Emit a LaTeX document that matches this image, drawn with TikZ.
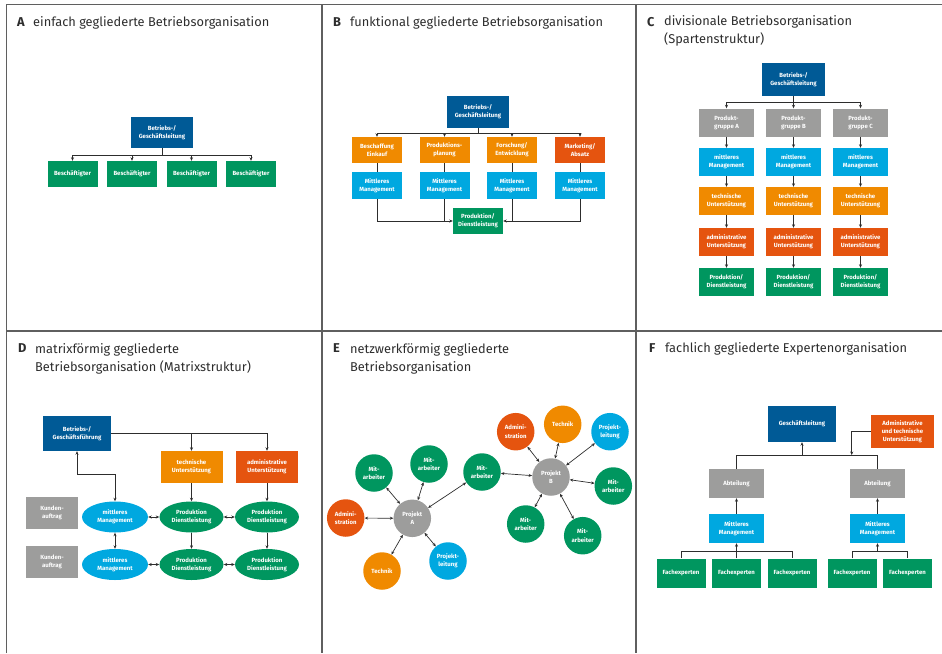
\documentclass[tikz,border=0pt]{standalone}
\usepackage{fontspec}
\setmainfont{Fira Sans}
\usetikzlibrary{arrows.meta,shapes.geometric}
\definecolor{dblue}{RGB}{0,90,150}
\definecolor{ogreen}{RGB}{0,150,95}
\definecolor{oorange}{RGB}{240,138,0}
\definecolor{ored}{RGB}{229,84,15}
\definecolor{ocyan}{RGB}{0,168,224}
\definecolor{ogray}{RGB}{157,157,156}
\definecolor{framec}{RGB}{95,95,95}
\definecolor{ink}{RGB}{45,45,45}
\begin{document}
\begin{tikzpicture}[x=1pt,y=-1pt,
  bx/.style={inner sep=0pt, text=white, font=\fontsize{6}{8.2}\selectfont\bfseries, align=center},
  rbox/.style={bx, rectangle, minimum width=#1},
  rbox/.default=50pt,
  ell/.style={bx, ellipse, minimum height=31pt},
  circ/.style={bx, circle, minimum size=37.5pt},
  ln/.style={draw=ink, line width=0.7pt},
  arr/.style={ln, -{Stealth[length=3.5pt,width=3pt]}},
  darr/.style={ln, {Stealth[length=3.5pt,width=3pt]}-{Stealth[length=3.5pt,width=3pt]}},
  ttl/.style={inner sep=0pt, text=ink, font=\fontsize{12.8}{18}\selectfont, align=left, anchor=base west},
  lett/.style={ttl, font=\fontsize{12.8}{18}\selectfont\bfseries}
]
\useasboundingbox (0,0) rectangle (942,653);
% frame
\draw[framec, line width=1.4pt] (6.5,653) -- (6.5,4.5) -- (942,4.5);
\draw[framec, line width=1.2pt] (6.5,331) -- (942,331);
\draw[framec, line width=1.2pt] (322,4.5) -- (322,653);
\draw[framec, line width=1.2pt] (636,4.5) -- (636,653);

% ---------- A ----------
\node[lett] (tA) at (17,26) {A};
\node[ttl] (tAt) at (33,26) {einfach gegliederte Betriebsorganisation};
\node[rbox=62pt, minimum height=31pt, fill=dblue] (a0) at (162,132.5) {Betriebs-/\\Geschäftsleitung};
\foreach \i/\x in {1/72.5,2/132,3/191.5,4/251}{
  \node[rbox, minimum height=26pt, fill=ogreen] (a\i) at (\x,174) {Beschäftigter};
  \draw[arr] (a0.south) -- ++(0,7) -| (a\i.north);
}

% ---------- B ----------
\node[lett] (tB) at (333,26) {B};
\node[ttl] (tBt) at (350,26) {funktional gegliederte Betriebsorganisation};
\node[rbox=62pt, minimum height=32pt, fill=dblue] (b0) at (478,112) {Betriebs-/\\Geschäftsleitung};
\node[rbox, minimum height=26pt, fill=oorange] (b11) at (377,150) {Beschaffung\\Einkauf};
\node[rbox, minimum height=26pt, fill=oorange] (b12) at (444.5,150) {Produktions-\\planung};
\node[rbox, minimum height=26pt, fill=oorange] (b13) at (512,150) {Forschung/\\Entwicklung};
\node[rbox, minimum height=26pt, fill=ored] (b14) at (580,150) {Marketing/\\Absatz};
\foreach \i/\x in {1/377,2/444.5,3/512,4/580}{
  \node[rbox, minimum height=27pt, fill=ocyan] (b2\i) at (\x,185.5) {Mittleres\\Management};
  \draw[arr] (b0.south) -- ++(0,5) -| (b1\i.north);
  \draw[ln] (b1\i.south) -- (b2\i.north);
}
\node[rbox, minimum height=26pt, fill=ogreen] (bg) at (478,221) {Produktion/\\Dienstleistung};
\draw[arr] (b21.south) |- (bg.west);
\draw[ln] (b22.south) -- (b22.south |- bg.west);
\draw[arr] (b24.south) |- (bg.east);
\draw[ln] (b23.south) -- (b23.south |- bg.east);

% ---------- C ----------
\node[lett] (tC) at (647,26) {C};
\node[ttl] (tCt) at (664,43) {divisionale Betriebsorganisation\\(Spartenstruktur)};
\node[rbox=63pt, minimum height=33pt, fill=dblue] (c0) at (793.5,79.5) {Betriebs-/\\Geschäftsleitung};
\foreach \i/\x/\l in {1/726.5/A,2/793.5/B,3/860.5/C}{
  \node[rbox=55pt, minimum height=28pt, fill=ogray] (c1\i) at (\x,122.5) {Produkt-\\gruppe \l};
  \node[rbox=55pt, minimum height=28pt, fill=ocyan] (c2\i) at (\x,162) {mittleres\\Management};
  \node[rbox=55pt, minimum height=28pt, fill=oorange] (c3\i) at (\x,201) {technische\\Unterstützung};
  \node[rbox=55pt, minimum height=28pt, fill=ored] (c4\i) at (\x,242) {administrative\\Unterstützung};
  \node[rbox=55pt, minimum height=28pt, fill=ogreen] (c5\i) at (\x,282) {Produktion/\\Dienstleistung};
  \draw[arr] (c0.south) -- ++(0,6) -| (c1\i.north);
  \draw[arr] (c1\i.south) -- (c2\i.north);
  \draw[arr] (c2\i.south) -- (c3\i.north);
  \draw[arr] (c3\i.south) -- (c4\i.north);
  \draw[arr] (c4\i.south) -- (c5\i.north);
}

% ---------- D ----------
\node[lett] (tD) at (18,352) {D};
\node[ttl] (tDt) at (35,371) {matrixförmig gegliederte\\Betriebsorganisation (Matrixstruktur)};
\node[rbox=68pt, minimum height=35pt, fill=dblue] (d0) at (77,433.5) {Betriebs-/\\Geschäftsführung};
\node[rbox=62pt, minimum height=32pt, fill=oorange] (dT) at (191.5,467) {technische\\Unterstützung};
\node[rbox=62pt, minimum height=32pt, fill=ored] (dA) at (267,467) {administrative\\Unterstützung};
\node[rbox=52pt, minimum height=32pt, fill=ogray] (dK1) at (52,513) {Kunden-\\auftrag};
\node[rbox=52pt, minimum height=32pt, fill=ogray] (dK2) at (52,562) {Kunden-\\auftrag};
\node[ell, minimum width=66pt, fill=ocyan] (dM1) at (115,517) {mittleres\\Management};
\node[ell, minimum width=64pt, fill=ogreen] (dG11) at (191.5,517) {Produktion\\Dienstleistung};
\node[ell, minimum width=64pt, fill=ogreen] (dG12) at (267,517) {Produktion\\Dienstleistung};
\node[ell, minimum width=66pt, fill=ocyan] (dM2) at (115,564.5) {mittleres\\Management};
\node[ell, minimum width=64pt, fill=ogreen] (dG21) at (191.5,564.5) {Produktion\\Dienstleistung};
\node[ell, minimum width=64pt, fill=ogreen] (dG22) at (267,564.5) {Produktion\\Dienstleistung};
\draw[arr] (d0.east) -| (dA.north);
\draw[arr] (dT.north |- d0.east) -- (dT.north);
\draw[darr] (d0.south) -- ++(0,23) -| (dM1.north);
\draw[arr] (dT.south) -- (dG11.north);
\draw[arr] (dA.south) -- (dG12.north);
\draw[darr] (dM1.east) -- (dG11.west);
\draw[darr] (dG11.east) -- (dG12.west);
\draw[darr] (dM2.east) -- (dG21.west);
\draw[darr] (dG21.east) -- (dG22.west);
\draw[darr] (dM1.south) -- (dM2.north);
\draw[arr] (dG11.south) -- (dG21.north);
\draw[arr] (dG12.south) -- (dG22.north);

% ---------- E ----------
\node[lett] (tE) at (333,352) {E};
\node[ttl] (tEt) at (350,371) {netzwerkförmig gegliederte\\Betriebsorganisation};
\node[circ, fill=ogray] (eA) at (412.3,518.3) {Projekt\\A};
\node[circ, fill=ogreen] (eM1) at (374,473) {Mit-\\arbeiter};
\node[circ, fill=ogreen] (eM2) at (429,464) {Mit-\\arbeiter};
\node[circ, fill=ogreen] (eM3) at (482,472) {Mit-\\arbeiter};
\node[circ, fill=ored] (eAd) at (345.7,518) {Admini-\\stration};
\node[circ, fill=oorange] (eT) at (382,571) {Technik};
\node[circ, fill=ocyan] (eP) at (448,561) {Projekt-\\leitung};
\node[circ, fill=ogray] (eB) at (551,477) {Projekt\\B};
\node[circ, fill=ored] (eBAd) at (515.7,431.7) {Admini-\\stration};
\node[circ, fill=oorange] (eBT) at (562.7,424.3) {Technik};
\node[circ, fill=ocyan] (eBP) at (610,431.7) {Projekt-\\leitung};
\node[circ, fill=ogreen] (eBM1) at (613.3,486) {Mit-\\arbeiter};
\node[circ, fill=ogreen] (eBM2) at (525.7,524) {Mit-\\arbeiter};
\node[circ, fill=ogreen] (eBM3) at (582.7,535.7) {Mit-\\arbeiter};
\foreach \n in {eM1,eM2,eM3,eAd,eT,eP}{\draw[darr] (eA) -- (\n);}
\foreach \n in {eM3,eBAd,eBT,eBP,eBM1,eBM2,eBM3}{\draw[darr] (eB) -- (\n);}

% ---------- F ----------
\node[lett] (tF) at (649,352) {F};
\node[ttl] (tFt) at (665,352) {fachlich gegliederte Expertenorganisation};
\node[rbox=68pt, minimum height=36pt, fill=dblue] (fG) at (802,424) {Geschäftsleitung};
\node[rbox=63pt, minimum height=33pt, fill=ored] (fR) at (902.5,431.5) {Administrative\\und technische\\Unterstützung};
\node[rbox=55pt, minimum height=29pt, fill=ogray] (fAb1) at (736.5,483.5) {Abteilung};
\node[rbox=55pt, minimum height=29pt, fill=ogray] (fAb2) at (877.5,483.5) {Abteilung};
\node[rbox=55pt, minimum height=29pt, fill=ocyan] (fM1) at (736.5,528.5) {Mittleres\\Management};
\node[rbox=55pt, minimum height=29pt, fill=ocyan] (fM2) at (877.5,528.5) {Mittleres\\Management};
\foreach \i/\x in {1/681,2/736.5,3/792,4/852,5/907.5}{
  \node[rbox=49pt, minimum height=29pt, fill=ogreen] (fE\i) at (\x,573) {Fachexperten};
}
\coordinate (fbar) at (736.5,455);
\coordinate (fjoin) at (851.7,455);
\draw[ln] (fAb1.north) -- (fbar) -| (fAb2.north);
\draw[arr] (fG.south |- fbar) -- (fG.south);
\draw[arr] (fR.west) -| (fjoin);
\draw[arr] (fM1.north) -- (fAb1.south);
\draw[arr] (fM2.north) -- (fAb2.south);
\draw[ln] (fE1.north) -- ++(0,-7) -| (fE3.north);
\draw[arr] (fE2.north) -- (fM1.south);
\draw[ln] (fE4.north) -- ++(0,-7) -| (fE5.north);
\coordinate (fj2) at (fM2.south |- 0,551);
\draw[arr] (fj2) -- (fM2.south);
\end{tikzpicture}
\end{document}
